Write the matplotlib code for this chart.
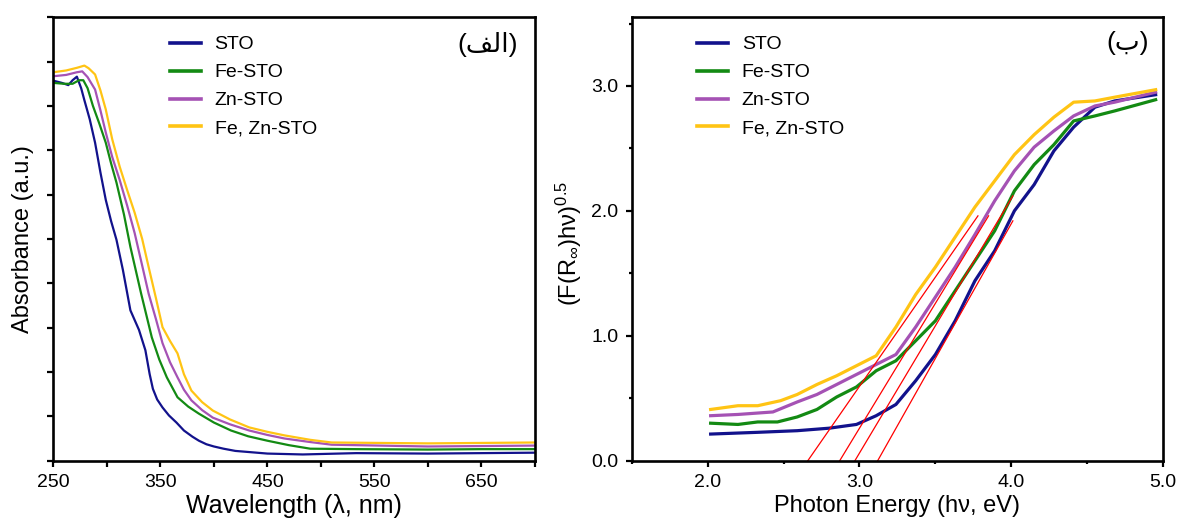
import matplotlib as mpl
mpl.use('Agg')
import matplotlib.pyplot as plt

plt.rcParams['font.family'] = ['Liberation Sans', 'DejaVu Sans']
plt.rcParams['mathtext.fontset'] = 'custom'
plt.rcParams['mathtext.rm'] = 'Liberation Sans'
plt.rcParams['mathtext.it'] = 'Liberation Sans:italic'

labels = ['STO', 'Fe-STO', 'Zn-STO', 'Fe, Zn-STO']
colors = ['#12128c', '#138a13', '#a552b4', '#ffc414']

# panel (a): absorbance vs wavelength (arbitrary units)
wl_sto = [250, 258, 264, 268, 272, 276, 279, 284, 289, 294, 299, 304, 309, 315, 322, 330, 336, 340, 343, 347, 352, 358, 365, 372, 380, 386, 393, 400, 409, 420, 430, 450, 483, 533, 600, 650, 700]
abs_sto = [8.57, 8.52, 8.47, 8.58, 8.66, 8.40, 8.13, 7.70, 7.17, 6.50, 5.88, 5.40, 4.98, 4.30, 3.39, 2.95, 2.49, 1.95, 1.62, 1.38, 1.20, 1.02, 0.86, 0.68, 0.54, 0.45, 0.37, 0.32, 0.27, 0.22, 0.20, 0.16, 0.14, 0.17, 0.16, 0.17, 0.18]
wl_fe = [250, 260, 268, 274, 278, 282, 287, 293, 299, 304, 309, 316, 322, 332, 342, 349, 356, 366, 376, 386, 400, 416, 432, 450, 470, 490, 533, 600, 650, 700]
abs_fe = [8.52, 8.50, 8.50, 8.58, 8.58, 8.40, 8.00, 7.60, 7.17, 6.70, 6.27, 5.55, 4.82, 3.77, 2.78, 2.28, 1.88, 1.43, 1.22, 1.06, 0.86, 0.68, 0.55, 0.45, 0.35, 0.27, 0.26, 0.25, 0.26, 0.26]
wl_zn = [250, 262, 272, 277, 282, 289, 294, 299, 305, 312, 319, 326, 333, 339, 346, 352, 359, 366, 372, 379, 389, 399, 415, 433, 450, 466, 490, 510, 600, 650, 700]
abs_zn = [8.67, 8.70, 8.76, 8.78, 8.65, 8.37, 7.90, 7.40, 6.85, 6.33, 5.75, 5.13, 4.40, 3.77, 3.18, 2.65, 2.22, 1.88, 1.60, 1.36, 1.14, 0.97, 0.82, 0.68, 0.58, 0.50, 0.42, 0.36, 0.32, 0.33, 0.34]
wl_fezn = [250, 262, 272, 279, 283, 289, 294, 299, 305, 312, 319, 326, 333, 339, 346, 352, 359, 366, 372, 379, 389, 399, 415, 433, 450, 466, 490, 510, 600, 650, 700]
abs_fezn = [8.76, 8.80, 8.86, 8.91, 8.85, 8.71, 8.35, 7.92, 7.25, 6.63, 6.10, 5.59, 5.00, 4.37, 3.65, 3.01, 2.70, 2.42, 1.95, 1.58, 1.32, 1.13, 0.93, 0.75, 0.65, 0.57, 0.47, 0.41, 0.39, 0.40, 0.41]

# panel (b): Kubelka-Munk plot
e_sto = [2.02, 2.33, 2.59, 2.80, 2.98, 3.11, 3.24, 3.37, 3.50, 3.63, 3.76, 3.89, 4.02, 4.15, 4.28, 4.41, 4.55, 4.68, 4.95]
km_sto = [0.213, 0.227, 0.24, 0.26, 0.29, 0.36, 0.45, 0.64, 0.85, 1.12, 1.44, 1.68, 2.00, 2.21, 2.48, 2.67, 2.83, 2.88, 2.93]
e_fe = [2.02, 2.20, 2.33, 2.46, 2.59, 2.72, 2.85, 2.98, 3.11, 3.24, 3.37, 3.50, 3.63, 3.76, 3.89, 4.02, 4.15, 4.28, 4.41, 4.55, 4.68, 4.95]
km_fe = [0.30, 0.29, 0.31, 0.31, 0.35, 0.41, 0.51, 0.59, 0.72, 0.80, 0.96, 1.12, 1.36, 1.60, 1.84, 2.16, 2.37, 2.53, 2.72, 2.76, 2.80, 2.89]
e_zn = [2.02, 2.20, 2.43, 2.59, 2.72, 2.85, 2.98, 3.11, 3.24, 3.37, 3.50, 3.63, 3.76, 3.89, 4.02, 4.15, 4.28, 4.41, 4.55, 4.68, 4.95]
km_zn = [0.36, 0.37, 0.39, 0.47, 0.53, 0.61, 0.69, 0.77, 0.85, 1.07, 1.31, 1.55, 1.81, 2.08, 2.32, 2.51, 2.64, 2.76, 2.84, 2.87, 2.95]
e_fezn = [2.02, 2.20, 2.33, 2.48, 2.59, 2.72, 2.85, 2.98, 3.11, 3.24, 3.37, 3.50, 3.63, 3.76, 3.89, 4.02, 4.15, 4.28, 4.41, 4.55, 4.68, 4.95]
km_fezn = [0.41, 0.44, 0.44, 0.48, 0.53, 0.61, 0.68, 0.76, 0.84, 1.07, 1.33, 1.55, 1.79, 2.03, 2.24, 2.45, 2.61, 2.75, 2.87, 2.88, 2.91, 2.97]

# tangent lines: x-intercept (band gap) and upper end point
eg = [2.66, 2.87, 2.97, 3.12]
fit_end_e = [3.78, 3.85, 4.01, 4.01]
fit_end_km = [1.96, 1.96, 2.12, 1.92]

fg = plt.figure(figsize=(11.8, 5.2), dpi=100)
ax1 = fg.add_axes([0.0452, 0.1141, 0.4082, 0.8527])
ax2 = fg.add_axes([0.5353, 0.1141, 0.4505, 0.8527])

for wl, a, c, lb in zip([wl_sto, wl_fe, wl_zn, wl_fezn], [abs_sto, abs_fe, abs_zn, abs_fezn], colors, labels):
    ax1.plot(wl, a, color=c, lw=1.6, label=lb)

for e, k, c, lb in zip([e_sto, e_fe, e_zn, e_fezn], [km_sto, km_fe, km_zn, km_fezn], colors, labels):
    ax2.plot(e, k, color=c, lw=2.3, label=lb)

for x0, x1, y1 in zip(eg, fit_end_e, fit_end_km):
    ax2.plot([x0, x1], [0, y1], color='red', lw=0.9)

for ax in (ax1, ax2):
    for s in ax.spines.values():
        s.set_linewidth(1.9)
    ax.tick_params(which='both', direction='out', width=1.6, labelsize=14, pad=5, top=False, right=False)
    ax.tick_params(which='major', length=4.5)

# panel (a) axes
ax1.set_xlim(250, 700)
ax1.set_ylim(0, 10)
ax1.set_xticks([250, 350, 450, 550, 650])
ax1.set_xticks([300, 400, 500, 600, 700], minor=True)
ax1.tick_params(which='minor', length=4.5)
ax1.set_yticks(range(0, 11))
ax1.tick_params(labelleft=False)
ax1.set_xlabel('Wavelength (λ, nm)', fontsize=18, labelpad=2)
ax1.set_ylabel('Absorbance (a.u.)', fontsize=17)
ax1.yaxis.set_label_coords(-0.04, 0.5)

# panel (b) axes
ax2.set_xlim(1.5, 5.0)
ax2.set_ylim(0, 3.55)
ax2.set_xticks([2.0, 3.0, 4.0, 5.0])
ax2.set_xticklabels(['2.0', '3.0', '4.0', '5.0'])
ax2.set_xticks([1.5, 2.5, 3.5, 4.5], minor=True)
ax2.set_yticks([0, 1, 2, 3])
ax2.set_yticklabels(['0.0', '1.0', '2.0', '3.0'])
ax2.set_yticks([0.5, 1.5, 2.5, 3.5], minor=True)
ax2.tick_params(which='minor', length=2.5)
ax2.set_xlabel('Photon Energy (hν, eV)', fontsize=17, labelpad=3)
ax2.set_ylabel(r'(F(R$_{\infty}$)hν)$^{0.5}$', fontsize=17)
ax2.yaxis.set_label_coords(-0.09, 0.49)

for ax, x0 in ((ax1, 0.242), (ax2, 0.123)):
    leg = ax.legend(loc='upper left', bbox_to_anchor=(x0, 0.958), frameon=False, fontsize=14,
                    borderpad=0, borderaxespad=0, handlelength=1.6, handletextpad=0.7, labelspacing=0.53)
    for ln in leg.get_lines():
        ln.set_linewidth(2.6)

# panel tags (Persian letters, written in visual order with presentation forms)
ax1.text(0.965, 0.9375, '(\uFED2\uFEDF\uFE8D)', transform=ax1.transAxes, ha='right', va='center', fontsize=19)
ax2.text(0.973, 0.941, '(\uFE8F)', transform=ax2.transAxes, ha='right', va='center', fontsize=19)

fg.savefig('out.png', dpi=100)
